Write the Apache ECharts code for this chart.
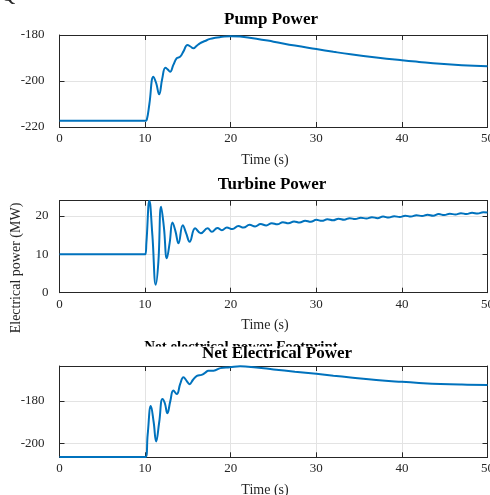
<!DOCTYPE html>
<html><head><meta charset="utf-8">
<script src="https://cdn.jsdelivr.net/npm/echarts@6/dist/echarts.min.js"></script>
<style>html,body{margin:0;padding:0;background:#fff}#c{width:490px;height:495px}</style>
</head><body><div id="c"></div>
<script>
// ---- data ----
const xTicks = [0, 10, 20, 30, 40, 50];
const titles = ['Pump Power', 'Turbine Power', 'Net Electrical Power'];
const hiddenTitle = 'Net electrical power Footprint';
const xLabel = 'Time (s)';
const yLabel = 'Electrical power (MW)';

const pumpTime = [0, 10.0, 10.2, 10.5, 10.97, 11.3, 11.64, 12.0, 12.37, 12.65, 12.92, 13.3, 13.7, 14.1, 14.5, 14.95, 15.3, 15.65, 16.0, 16.4, 17.0, 17.6, 18.2, 18.8, 20.0, 21.1, 23, 25, 27.5, 30, 32, 34, 37, 40, 42, 44.5, 47, 50];
const pumpPower = [-217.3, -217.3, -216.8, -210, -198.1, -201, -205.8, -199, -194.2, -195, -196.0, -193, -190.1, -189.4, -187, -184.3, -185, -185.8, -184.8, -183.6, -182.6, -181.7, -181.2, -180.9, -180.5, -180.7, -181.6, -182.9, -184.6, -186.1, -187.3, -188.4, -189.8, -191.0, -191.7, -192.5, -193.1, -193.6];

const turbTime = [0, 10.0, 10.15, 10.5, 10.85, 11.25, 11.55, 11.87, 12.2, 12.54, 12.87, 13.2, 13.55, 13.9, 14.4, 14.8, 15.2, 15.85, 16.5, 17.3, 17.8, 18.45, 18.97, 19.55, 20.2, 20.9, 21.5, 22.2, 22.85, 23.5, 24.15, 24.8, 25.45, 26.1, 26.75, 27.4, 28.05, 28.7, 29.35, 30.0, 30.65, 31.3, 31.95, 32.6, 33.25, 33.9, 34.55, 35.2, 35.85, 36.5, 37.15, 37.8, 38.45, 39.1, 39.75, 40.4, 41.05, 41.7, 42.35, 43.0, 43.65, 44.3, 44.95, 45.6, 46.25, 46.9, 47.55, 48.2, 48.85, 49.5, 50];
const turbPower = [10, 10, 13, 24.0, 15, 2.1, 8, 22.4, 17, 9.0, 13, 18.3, 16, 12.9, 17.6, 15.5, 13.3, 16.8, 15.5, 16.8, 15.9, 16.9, 16.3, 17.0, 16.6, 17.4, 17.0, 17.7, 17.3, 17.9, 17.55, 18.15, 17.85, 18.4, 18.1, 18.6, 18.3, 18.8, 18.5, 19.0, 18.75, 19.15, 18.9, 19.3, 19.05, 19.45, 19.2, 19.55, 19.35, 19.7, 19.45, 19.85, 19.6, 19.95, 19.75, 20.1, 19.85, 20.2, 20.0, 20.35, 20.1, 20.5, 20.25, 20.6, 20.4, 20.75, 20.5, 20.85, 20.65, 21.0, 20.9];

const netTime = [0, 10.05, 10.3, 10.67, 11.0, 11.29, 11.65, 12.03, 12.3, 12.6, 12.95, 13.3, 13.7, 14.1, 14.48, 14.85, 15.19, 15.6, 16.05, 16.6, 17.0, 17.4, 18.0, 18.8, 19.9, 21.1, 23, 25, 27.5, 30, 32, 34, 37, 40, 42, 44.5, 47, 50];
const netPower = [-206.5, -206.5, -196, -182.4, -190, -199.2, -190, -179.1, -181, -185.8, -180, -175.1, -176.8, -172, -168.8, -170.5, -172.1, -170, -168.2, -167.7, -166.8, -165.7, -165.7, -164.5, -164.1, -163.6, -164.2, -165.1, -166.2, -167.2, -168.1, -168.9, -170.1, -171.0, -171.5, -172.0, -172.3, -172.5];

// ---- layout ----
const FONT = '"Liberation Serif", "Times New Roman", serif';
const AX = '#262626';
const GRID = '#e3e3e3';
const LINE = '#0072BD';
const grids = [
  {left: 59.5, right: 2.5, top: 35, height: 92, outerBoundsMode: 'none', containLabel: false},
  {left: 59.5, right: 2.5, top: 200.7, height: 92, outerBoundsMode: 'none', containLabel: false},
  {left: 59.5, right: 2.5, top: 366, height: 91.3, outerBoundsMode: 'none', containLabel: false}
];
const yCfg = [
  {min: -220, max: -180, interval: 20, margin: 15},
  {min: 0, max: 24, interval: 10, margin: 11},
  {min: -206.7, max: -163.5, splitNumber: 2, margin: 15}
];
const series = [
  [pumpTime, pumpPower],
  [turbTime, turbPower],
  [netTime, netPower]
];

const xAxis = [], yAxis = [], ser = [];
grids.forEach((g, i) => {
  const xb = {
    type: 'value', gridIndex: i, min: xTicks[0], max: xTicks[xTicks.length - 1], interval: 10,
    position: 'bottom',
    axisLine: {show: true, onZero: false, lineStyle: {color: AX, width: 1}},
    axisTick: {show: true, inside: true, length: 5, lineStyle: {color: AX}},
    axisLabel: {color: AX, fontFamily: FONT, fontSize: 13, margin: 5},
    splitLine: {show: true, lineStyle: {color: GRID, width: 1}}
  };
  const xt = {
    type: 'value', gridIndex: i, min: xTicks[0], max: xTicks[xTicks.length - 1], interval: 10,
    position: 'top',
    axisLine: {show: true, onZero: false, lineStyle: {color: AX, width: 1}},
    axisTick: {show: true, inside: true, length: 5, lineStyle: {color: AX}},
    axisLabel: {show: false}, splitLine: {show: false}
  };
  xAxis.push(xb, xt);
  const c = yCfg[i];
  const base = {type: 'value', gridIndex: i, min: c.min, max: c.max};
  if (c.interval) base.interval = c.interval; else base.splitNumber = c.splitNumber;
  const yl = Object.assign({}, base, {
    position: 'left',
    axisLine: {show: true, onZero: false, lineStyle: {color: AX, width: 1}},
    axisTick: {show: true, inside: true, length: 5, lineStyle: {color: AX}},
    axisLabel: {color: AX, fontFamily: FONT, fontSize: 13, margin: c.margin, showMinLabel: i !== 2, showMaxLabel: i === 0},
    splitLine: {show: true, lineStyle: {color: GRID, width: 1}}
  });
  const yr = Object.assign({}, base, {
    position: 'right',
    axisLine: {show: true, onZero: false, lineStyle: {color: AX, width: 1}},
    axisTick: {show: true, inside: true, length: 5, lineStyle: {color: AX}},
    axisLabel: {show: false}, splitLine: {show: false}
  });
  yAxis.push(yl, yr);
  const [tt, vv] = series[i];
  ser.push({
    type: 'line', xAxisIndex: 2 * i, yAxisIndex: 2 * i,
    data: tt.map((t, k) => [t, vv[k]]),
    showSymbol: false, smooth: 0.45, clip: true,
    lineStyle: {color: LINE, width: 2}, z: 5
  });
});

function txt(text, x, y, size, bold, extra) {
  return Object.assign({
    type: 'text', x: x, y: y, z: 100,
    style: {text: text, font: (bold ? 'bold ' : '') + size + 'px ' + FONT, fill: bold ? '#000' : AX, align: 'center', verticalAlign: 'middle'}
  }, extra || {});
}

const graphic = [
  txt('Q', 8, -4, 20, false),
  txt(titles[0], 271, 20, 17, true),
  txt(xLabel, 265, 160, 14, false),
  txt(titles[1], 272, 184.5, 17, true),
  txt(xLabel, 265, 325, 14, false),
  txt(yLabel, 16, 268, 14, false, {rotation: Math.PI / 2}),
  txt(hiddenTitle, 241, 347.5, 15, true, {z: 90}),
  {type: 'rect', z: 95, shape: {x: 120, y: 346.5, width: 250, height: 18}, style: {fill: '#fff'}},
  txt(titles[2], 277, 354, 17, true),
  txt(xLabel, 265, 490, 14, false)
];

const chart = echarts.init(document.getElementById('c'), null, {renderer: 'canvas'});
chart.setOption({
  animation: false,
  backgroundColor: '#fff',
  grid: grids,
  xAxis: xAxis,
  yAxis: yAxis,
  series: ser,
  graphic: graphic
});
</script></body></html>
